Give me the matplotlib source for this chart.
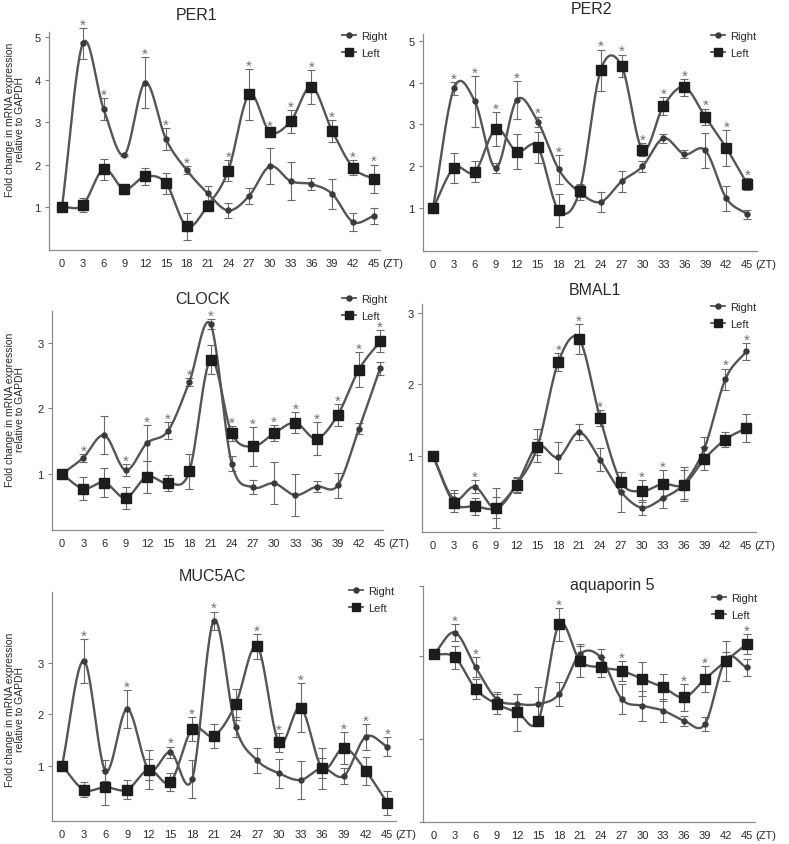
import numpy as np
import matplotlib
matplotlib.use("Agg")
import matplotlib.pyplot as plt
from matplotlib.lines import Line2D

plt.rcParams['font.family'] = ['Liberation Sans', 'DejaVu Sans']

# ---------------- data ----------------
zt = [0, 3, 6, 9, 12, 15, 18, 21, 24, 27, 30, 33, 36, 39, 42, 45]

per1_right = [1.0, 4.85, 3.31, 2.23, 3.93, 2.6, 1.87, 1.33, 0.92, 1.26, 1.96, 1.61, 1.54, 1.31, 0.65, 0.79]
per1_right_err = [0.0, 0.37, 0.25, 0.03, 0.6, 0.26, 0.1, 0.16, 0.18, 0.18, 0.42, 0.45, 0.14, 0.36, 0.22, 0.18]
per1_left = [1.0, 1.05, 1.89, 1.42, 1.72, 1.56, 0.55, 1.03, 1.86, 3.65, 2.77, 3.02, 3.83, 2.79, 1.93, 1.66]
per1_left_err = [0.0, 0.17, 0.25, 0.11, 0.19, 0.25, 0.32, 0.05, 0.25, 0.6, 0.06, 0.27, 0.4, 0.26, 0.18, 0.34]
per1_stars = [3, 6, 12, 15, 18, 24, 27, 30, 33, 36, 39, 42, 45]

per2_right = [1.0, 3.86, 3.55, 1.96, 3.59, 3.07, 1.93, 1.38, 1.15, 1.64, 2.0, 2.67, 2.29, 2.38, 1.24, 0.86]
per2_right_err = [0.0, 0.16, 0.6, 0.11, 0.45, 0.12, 0.35, 0.18, 0.25, 0.25, 0.14, 0.1, 0.1, 0.41, 0.3, 0.11]
per2_left = [1.0, 1.96, 1.87, 2.89, 2.35, 2.46, 0.95, 1.42, 4.29, 4.4, 2.4, 3.44, 3.89, 3.18, 2.44, 1.58]
per2_left_err = [0.0, 0.36, 0.25, 0.41, 0.42, 0.37, 0.39, 0.15, 0.5, 0.27, 0.15, 0.22, 0.2, 0.2, 0.43, 0.15]
per2_stars = [3, 6, 9, 12, 15, 18, 24, 27, 30, 33, 36, 39, 42, 45]

clock_right = [1.0, 1.25, 1.59, 1.06, 1.47, 1.66, 2.4, 3.28, 1.16, 0.8, 0.86, 0.68, 0.81, 0.83, 1.69, 2.61]
clock_right_err = [0.0, 0.06, 0.29, 0.09, 0.27, 0.13, 0.06, 0.08, 0.11, 0.11, 0.32, 0.32, 0.08, 0.19, 0.08, 0.1]
clock_left = [1.0, 0.78, 0.87, 0.64, 0.96, 0.86, 1.04, 2.74, 1.62, 1.42, 1.62, 1.78, 1.54, 1.9, 2.59, 3.02]
clock_left_err = [0.0, 0.17, 0.22, 0.17, 0.24, 0.12, 0.26, 0.22, 0.11, 0.3, 0.12, 0.16, 0.25, 0.17, 0.27, 0.17]
clock_stars = [3, 9, 12, 15, 18, 21, 24, 27, 30, 33, 36, 39, 42, 45]

bmal1_right = [1.0, 0.4, 0.57, 0.27, 0.6, 1.14, 0.98, 1.33, 0.95, 0.5, 0.28, 0.41, 0.61, 1.11, 2.07, 2.46]
bmal1_right_err = [0.0, 0.13, 0.09, 0.28, 0.11, 0.23, 0.22, 0.11, 0.16, 0.28, 0.1, 0.14, 0.24, 0.16, 0.15, 0.12]
bmal1_left = [1.0, 0.35, 0.3, 0.28, 0.6, 1.13, 2.31, 2.63, 1.53, 0.64, 0.51, 0.61, 0.6, 0.96, 1.23, 1.39]
bmal1_left_err = [0.0, 0.13, 0.12, 0.15, 0.1, 0.11, 0.12, 0.21, 0.11, 0.13, 0.15, 0.19, 0.2, 0.16, 0.11, 0.2]
bmal1_stars = [6, 18, 21, 24, 30, 33, 42, 45]

muc5ac_right = [1.0, 3.04, 0.9, 2.1, 0.92, 1.26, 0.74, 3.82, 1.75, 1.1, 0.85, 0.72, 0.95, 0.8, 1.56, 1.37]
muc5ac_right_err = [0.0, 0.43, 0.2, 0.37, 0.2, 0.11, 0.37, 0.18, 0.19, 0.25, 0.28, 0.37, 0.2, 0.15, 0.25, 0.19]
muc5ac_left = [1.0, 0.53, 0.58, 0.53, 0.92, 0.68, 1.71, 1.58, 2.19, 3.32, 1.45, 2.13, 0.95, 1.34, 0.9, 0.27]
muc5ac_left_err = [0.0, 0.15, 0.34, 0.18, 0.38, 0.17, 0.23, 0.23, 0.3, 0.24, 0.18, 0.47, 0.4, 0.31, 0.27, 0.24]
muc5ac_stars = [3, 9, 15, 18, 21, 27, 30, 33, 39, 42, 45]

aqp5_right = [1.01, 1.14, 0.93, 0.74, 0.71, 0.71, 0.77, 1.01, 0.99, 0.74, 0.70, 0.67, 0.61, 0.59, 0.98, 0.93]
aqp5_right_err = [0.0, 0.05, 0.06, 0.04, 0.06, 0.1, 0.07, 0.05, 0.05, 0.09, 0.09, 0.07, 0.03, 0.04, 0.04, 0.05]
aqp5_left = [1.01, 0.99, 0.80, 0.71, 0.66, 0.61, 1.19, 0.97, 0.93, 0.91, 0.86, 0.81, 0.75, 0.86, 0.97, 1.07]
aqp5_left_err = [0.0, 0.07, 0.06, 0.06, 0.11, 0.03, 0.1, 0.1, 0.06, 0.06, 0.1, 0.08, 0.08, 0.08, 0.12, 0.06]
aqp5_stars = [3, 6, 18, 27, 36, 39, 45]

# ---------------- style ----------------
W, H = 789, 845
LINE_C = '#555555'
DARK = '#1c1c1c'
ERR_C = '#6a6a6a'
TXT = '#2a2a2a'
STAR_C = '#707070'
FS = 8


def catmull(x, y, n=24):
    P = np.column_stack([x, y]).astype(float)
    E = np.vstack([2 * P[0] - P[1], P, 2 * P[-1] - P[-2]])
    t = np.linspace(0, 1, n, endpoint=False)[:, None]
    out = []
    for i in range(len(P) - 1):
        p0, p1, p2, p3 = E[i], E[i + 1], E[i + 2], E[i + 3]
        seg = 0.5 * (2 * p1 + (-p0 + p2) * t + (2 * p0 - 5 * p1 + 4 * p2 - p3) * t ** 2
                     + (-p0 + 3 * p1 - 3 * p2 + p3) * t ** 3)
        out.append(seg)
    out.append(P[-1:])
    S = np.vstack(out)
    return S[:, 0], S[:, 1]


fig = plt.figure(figsize=(W / 100, H / 100), dpi=100)


def rect(l, r, t, b):
    return [l / W, 1 - b / H, (r - l) / W, (b - t) / H]


def panel(box, xlim, ylim, yticks, right, rerr, left, lerr, stars, title, tpos,
          legpos, ylabel=None, ylabpos=None, show_ylabels=True):
    ax = fig.add_axes(rect(*box))
    x = np.array(zt, dtype=float)
    # error bars
    ax.errorbar(x, right, yerr=rerr, fmt='none', ecolor=ERR_C, elinewidth=0.8,
                capsize=3, capthick=0.8, zorder=2, clip_on=False)
    ax.errorbar(x, left, yerr=lerr, fmt='none', ecolor=ERR_C, elinewidth=0.8,
                capsize=3, capthick=0.8, zorder=2, clip_on=False)
    # smooth lines
    sx, sy = catmull(x, right)
    ax.plot(sx, sy, color=LINE_C, lw=1.7, zorder=3, clip_on=False)
    sx, sy = catmull(x, left)
    ax.plot(sx, sy, color=LINE_C, lw=1.7, zorder=3, clip_on=False)
    ax.plot(x, right, 'o', ms=3.6, color='#3a3a3a', zorder=4, clip_on=False)
    ax.plot(x, left, 's', ms=6.8, color=DARK, zorder=5, clip_on=False)
    # stars
    r = np.array(right); re = np.array(rerr); l = np.array(left); le = np.array(lerr)
    for s in stars:
        i = zt.index(s)
        top = max(r[i] + re[i], l[i] + le[i])
        ax.annotate('*', xy=(s, top), xytext=(0, -0.5), textcoords='offset points',
                    ha='center', va='baseline', fontsize=11, color=STAR_C,
                    zorder=6, annotation_clip=False)
    ax.set_xlim(*xlim)
    ax.set_ylim(*ylim)
    ax.set_xticks(zt)
    ax.set_xticklabels([str(v) for v in zt])
    ax.set_yticks(yticks)
    if show_ylabels:
        ax.set_yticklabels([str(v) for v in yticks])
    else:
        ax.set_yticklabels([''] * len(yticks))
    ax.tick_params(axis='x', length=0, pad=6, labelsize=FS, labelcolor=TXT)
    ax.tick_params(axis='y', length=3, width=0.8, color='#808080', pad=3,
                   labelsize=FS, labelcolor=TXT)
    for sp in ['top', 'right']:
        ax.spines[sp].set_visible(False)
    for sp in ['left', 'bottom']:
        ax.spines[sp].set_color('#8a8a8a')
        ax.spines[sp].set_linewidth(0.9)
    ax.annotate('(ZT)', xy=(45, 0), xycoords=('data', 'axes fraction'),
                xytext=(6, -6), textcoords='offset points', ha='left', va='top',
                fontsize=FS, color=TXT, annotation_clip=False)
    fig.text(tpos[0] / W, 1 - tpos[1] / H, title, ha='center', va='center',
             fontsize=11.5, color=TXT)
    handles = [Line2D([], [], color=LINE_C, lw=1.3, marker='o', ms=3.6,
                      mfc='#3a3a3a', mec='#3a3a3a'),
               Line2D([], [], color=LINE_C, lw=1.3, marker='s', ms=6,
                      mfc=DARK, mec=DARK)]
    ax.legend(handles, ['Right', 'Left'], loc='upper left',
              bbox_to_anchor=(legpos[0] / W, 1 - legpos[1] / H),
              bbox_transform=fig.transFigure, frameon=False, fontsize=8,
              handlelength=1.3, handletextpad=0.4, labelspacing=0.65,
              borderpad=0, borderaxespad=0, labelcolor=TXT)
    if ylabel:
        fig.text(ylabpos[0] / W, 1 - ylabpos[1] / H, ylabel, rotation=90,
                 ha='center', va='center', fontsize=7.5, color=TXT,
                 linespacing=1.1, multialignment='center')
    return ax


YL = 'Fold change in mRNA expression\nrelative to GAPDH'

panel((49, 380, 33, 251), (-1.88, 45.9), (-0.01, 5.12), [1, 2, 3, 4, 5],
      per1_right, per1_right_err, per1_left, per1_left_err, per1_stars,
      'PER1', (197, 16), (342, 32), YL, (15, 120))

panel((423, 757, 35, 252), (-1.43, 46.4), (-0.02, 5.16), [1, 2, 3, 4, 5],
      per2_right, per2_right_err, per2_left, per2_left_err, per2_stars,
      'PER2', (592, 10), (711, 32))

panel((52, 383, 312, 531), (-1.42, 45.4), (0.15, 3.48), [1, 2, 3],
      clock_right, clock_right_err, clock_left, clock_left_err, clock_stars,
      'CLOCK', (203, 299), (342, 295), YL, (15, 410))

panel((422, 756, 305, 533), (-1.58, 46.4), (-0.06, 3.12), [1, 2, 3],
      bmal1_right, bmal1_right_err, bmal1_left, bmal1_left_err, bmal1_stars,
      'BMAL1', (595, 291), (711, 303))

panel((52, 396, 593, 822), (-1.39, 46.2), (-0.08, 4.38), [1, 2, 3],
      muc5ac_right, muc5ac_right_err, muc5ac_left, muc5ac_left_err, muc5ac_stars,
      'MUC5AC', (212, 577), (349, 587), YL, (15, 710))

panel((423, 755, 587, 823), (-1.59, 46.2), (0.0, 1.42), [0, 0.5, 1.0, 1.42],
      aqp5_right, aqp5_right_err, aqp5_left, aqp5_left_err, aqp5_stars,
      'aquaporin 5', (612, 586), (712, 594), show_ylabels=False)

fig.savefig('out.png', dpi=100)
